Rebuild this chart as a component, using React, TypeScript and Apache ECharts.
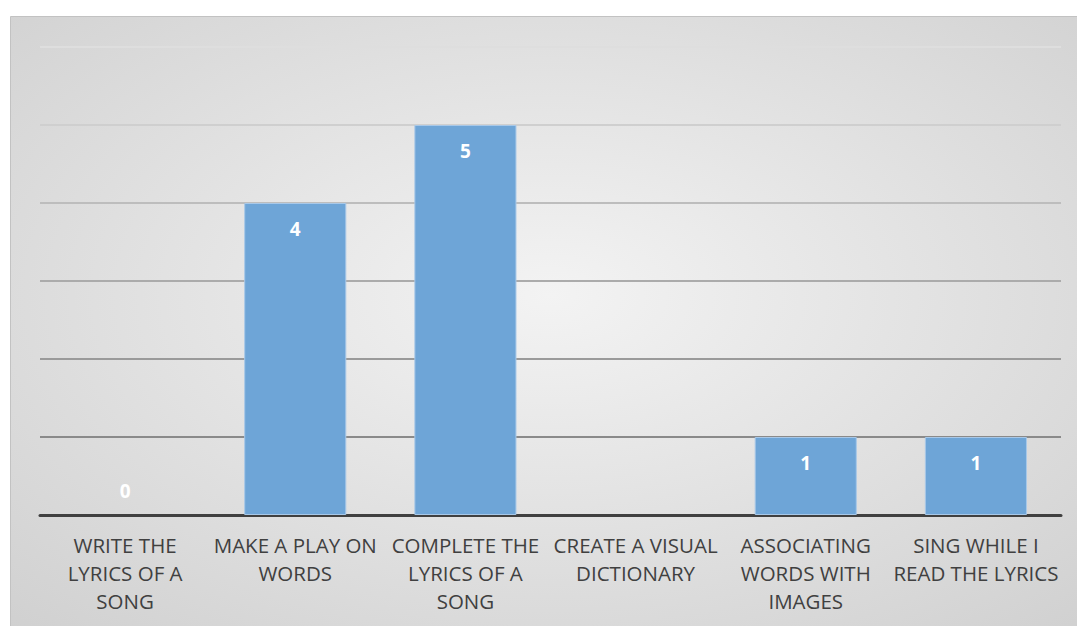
import React, { useEffect, useRef } from "react";
import * as echarts from "echarts";

const categories = [
  "WRITE THE\nLYRICS OF A\nSONG",
  "MAKE A PLAY ON\nWORDS",
  "COMPLETE THE\nLYRICS OF A\nSONG",
  "CREATE A VISUAL\nDICTIONARY",
  "ASSOCIATING\nWORDS WITH\nIMAGES",
  "SING WHILE I\nREAD THE LYRICS",
];
const values: (number | null)[] = [0, 4, 5, null, 1, 1];
const gridColors = ["#8a8a8a", "#8a8a8a", "#9a9a9a", "#ababab", "#bdbdbd", "#cfcfcf", "#dedede"];

export default function App() {
  const ref = useRef<HTMLDivElement>(null);
  useEffect(() => {
    if (!ref.current) return;
    const chart = echarts.init(ref.current, null, { renderer: "svg" });
    const data = values.map((v) => {
      if (v === null) return "-";
      if (v === 0) {
        return {
          value: 0,
          itemStyle: { borderWidth: 0 },
          label: { position: "top", distance: 15 },
        };
      }
      return v;
    });
    chart.setOption({
      animation: false,
      graphic: [
        {
          type: "rect",
          z: -100,
          silent: true,
          shape: { x: 10.5, y: 16.5, width: 1080, height: 620 },
          style: {
            fill: {
              type: "radial",
              x: 0.5,
              y: 0.45,
              r: 0.95,
              colorStops: [
                { offset: 0, color: "#f3f3f3" },
                { offset: 1, color: "#c6c6c6" },
              ],
            },
            stroke: "#c2c2c2",
            lineWidth: 1,
          },
        },
      ],
      grid: { left: 40, right: 16, top: 47, bottom: 111 },
      xAxis: {
        type: "category",
        data: categories,
        axisLine: { lineStyle: { color: "#404040", width: 3 } },
        axisTick: { show: false },
        axisLabel: {
          color: "#404040",
          fontFamily: "Open Sans",
          fontSize: 20.5,
          lineHeight: 28,
          margin: 16,
          interval: 0,
        },
      },
      yAxis: {
        type: "value",
        min: 0,
        max: 6,
        interval: 1,
        axisLabel: { show: false },
        axisLine: { show: false },
        axisTick: { show: false },
        splitLine: { lineStyle: { color: gridColors, width: 2 } },
      },
      series: [
        {
          type: "bar",
          data,
          barWidth: "60%",
          itemStyle: {
            color: "#6ea5d7",
            borderColor: "#a8c8e8",
            borderWidth: 1,
          },
          label: {
            show: true,
            position: "insideTop",
            distance: 16,
            color: "#ffffff",
            fontWeight: "bold",
            fontFamily: "Open Sans",
            fontSize: 19,
          },
        },
      ],
    });
    return () => chart.dispose();
  }, []);
  return (
    <div
      ref={ref}
      style={{ position: "absolute", left: 0, top: 0, width: 1077, height: 626, background: "#ffffff" }}
    />
  );
}
